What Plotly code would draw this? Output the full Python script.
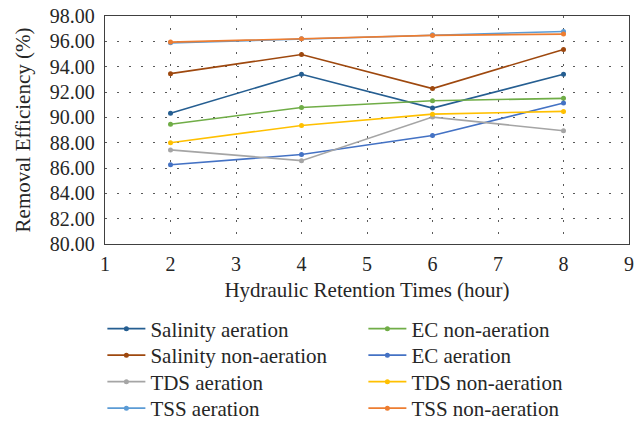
import plotly.graph_objects as go

hrt = [2, 4, 6, 8]

salinity_aeration = [90.33, 93.40, 90.73, 93.40]
salinity_non_aeration = [93.45, 94.96, 92.27, 95.36]
tds_aeration = [87.43, 86.58, 90.02, 88.94]
tss_aeration = [95.88, 96.20, 96.52, 96.78]
ec_non_aeration = [89.46, 90.78, 91.31, 91.50]
ec_aeration = [86.26, 87.06, 88.56, 91.13]
tds_non_aeration = [88.00, 89.36, 90.25, 90.47]
tss_non_aeration = [95.94, 96.20, 96.47, 96.57]

y_ticks = [80, 82, 84, 86, 88, 90, 92, 94, 96, 98]
x_ticks = [1, 2, 3, 4, 5, 6, 7, 8, 9]

# legend rows (two entries per row, left column then right column)
series = [
    ("Salinity aeration", salinity_aeration, "#255E91", "legend"),
    ("EC non-aeration", ec_non_aeration, "#70AD47", "legend"),
    ("Salinity non-aeration", salinity_non_aeration, "#9E480E", "legend2"),
    ("EC aeration", ec_aeration, "#4472C4", "legend2"),
    ("TDS aeration", tds_aeration, "#A5A5A5", "legend3"),
    ("TDS non-aeration", tds_non_aeration, "#FFC000", "legend3"),
    ("TSS aeration", tss_aeration, "#5B9BD5", "legend4"),
    ("TSS non-aeration", tss_non_aeration, "#ED7D31", "legend4"),
]

fig = go.Figure()
for name, vals, color, lg in series:
    fig.add_trace(go.Scatter(
        x=hrt, y=vals, name=name, mode="lines+markers",
        line=dict(color=color, width=1.6),
        marker=dict(color=color, size=5),
        legend=lg,
    ))

font_family = "Liberation Serif"
plot_top, plot_bottom = 16, 244
ph = plot_bottom - plot_top


def row_y(py):
    return (plot_bottom - py) / ph


legend_common = dict(
    orientation="h", yanchor="middle", xanchor="left", x=-0.005,
    entrywidth=208, entrywidthmode="pixels", itemwidth=38,
    font=dict(family=font_family, size=21, color="#262626"),
    bgcolor="rgba(0,0,0,0)",
)

fig.update_layout(
    width=641, height=421,
    margin=dict(l=105, r=12, t=plot_top, b=421 - plot_bottom, autoexpand=False),
    paper_bgcolor="white", plot_bgcolor="white",
    font=dict(family=font_family, size=20, color="#262626"),
    legend=dict(y=row_y(329), **legend_common),
    legend2=dict(y=row_y(355.5), **legend_common),
    legend3=dict(y=row_y(382), **legend_common),
    legend4=dict(y=row_y(408.5), **legend_common),
    xaxis=dict(
        range=[1, 9], tickvals=x_ticks, ticktext=[str(v) for v in x_ticks],
        showgrid=True, gridcolor="#595959", griddash="2px,10px", gridwidth=1,
        showline=True, linecolor="#404040", linewidth=1.3, mirror=True,
        ticks="outside", ticklen=2, tickcolor="rgba(0,0,0,0)", zeroline=False,
        title=dict(text="Hydraulic Retention Times (hour)", font=dict(size=21), standoff=8),
        tickfont=dict(size=20),
    ),
    yaxis=dict(
        range=[80, 98], tickvals=y_ticks, ticktext=[f"{v:.2f}" for v in y_ticks],
        showgrid=True, gridcolor="#595959", griddash="2px,10px", gridwidth=1,
        showline=True, linecolor="#404040", linewidth=1.3, mirror=True,
        ticks="outside", ticklen=5, tickcolor="rgba(0,0,0,0)", zeroline=False,
        title=dict(text="Removal Efficiency (%)", font=dict(size=21), standoff=13),
        tickfont=dict(size=20),
    ),
)

fig.write_html(
    "out.html",
    config={"displayModeBar": False},
    post_script="document.body.style.margin='0';document.body.style.padding='0';",
)
